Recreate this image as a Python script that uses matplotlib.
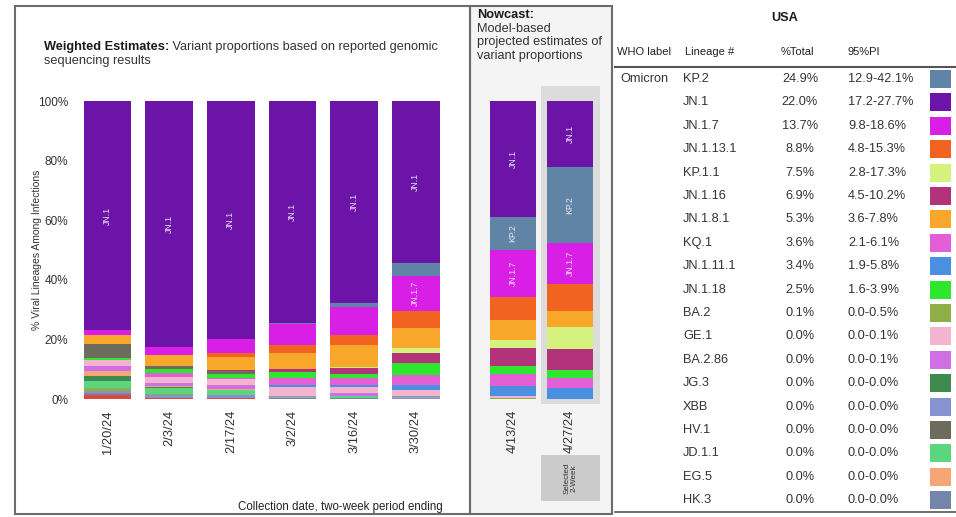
import numpy as np
import matplotlib
matplotlib.use("Agg")
import matplotlib.pyplot as plt
from matplotlib.patches import Rectangle

plt.rcParams['font.family'] = ['Liberation Sans', 'DejaVu Sans']

# two-week periods: six weighted estimates, then two nowcast periods
dates = ["1/20/24", "2/3/24", "2/17/24", "3/2/24", "3/16/24", "3/30/24", "4/13/24", "4/27/24"]

# lineage share (%) for every period, one list per lineage
share = {
    "Other":     [1.2, 0.2, 0.2, 0.1, 0.1, 0.1, 0.0, 0.0],
    "HK.3":      [0.7, 0.3, 0.2, 0.1, 0.1, 0.0, 0.0, 0.0],
    "XBB":       [0.7, 1.0, 1.1, 0.1, 0.1, 0.1, 0.0, 0.0],
    "BA.2":      [1.1, 0.3, 0.0, 0.1, 0.1, 0.1, 0.3, 0.1],
    "JD.1.1":    [2.2, 1.8, 1.4, 0.2, 0.5, 0.3, 0.0, 0.0],
    "JG.3":      [1.7, 0.4, 0.2, 0.1, 0.1, 0.0, 0.0, 0.0],
    "EG.5":      [1.7, 0.3, 0.2, 0.1, 0.1, 0.1, 0.0, 0.0],
    "BA.2.86":   [1.9, 1.1, 1.5, 0.2, 0.8, 0.4, 0.0, 0.0],
    "GE.1":      [1.8, 2.0, 1.9, 3.0, 2.2, 2.0, 0.8, 0.0],
    "JN.1.11.1": [0.0, 0.0, 0.0, 0.8, 0.6, 1.7, 3.4, 3.4],
    "KQ.1":      [0.0, 1.4, 0.3, 2.2, 2.2, 3.4, 3.9, 3.6],
    "JN.1.18":   [0.8, 1.1, 1.5, 1.9, 1.4, 3.9, 2.8, 2.5],
    "HV.1":      [4.7, 1.3, 0.9, 0.1, 0.1, 0.0, 0.0, 0.0],
    "JN.1.16":   [0.0, 0.0, 0.3, 0.9, 1.9, 3.4, 5.9, 6.9],
    "KP.1.1":    [0.0, 0.0, 0.0, 0.1, 0.5, 1.7, 2.7, 7.5],
    "JN.1.8.1":  [3.1, 3.4, 4.5, 5.3, 7.3, 6.7, 6.7, 5.3],
    "JN.1.13.1": [0.0, 0.0, 1.1, 2.8, 3.4, 5.6, 7.8, 8.8],
    "JN.1.7":    [1.4, 3.0, 4.7, 7.0, 9.5, 11.7, 15.7, 13.7],
    "KP.2":      [0.0, 0.0, 0.0, 0.3, 1.1, 4.5, 11.2, 24.9],
    "JN.1":      [77.0, 82.4, 80.0, 74.6, 67.9, 54.3, 38.8, 22.0],
}

colors = {
    "Other": "#e0463a", "HK.3": "#7485aa", "XBB": "#8593d2", "BA.2": "#8fae45",
    "JD.1.1": "#5cd67c", "JG.3": "#3f8a4f", "EG.5": "#f6a576", "BA.2.86": "#cf6fe3",
    "GE.1": "#f4b3cf", "JN.1.11.1": "#4a8fe0", "KQ.1": "#e35fd6", "JN.1.18": "#2ee62e",
    "HV.1": "#6d6b5c", "JN.1.16": "#b3337a", "KP.1.1": "#d5f27f", "JN.1.8.1": "#f9a72b",
    "JN.1.13.1": "#f26322", "JN.1.7": "#d91ee6", "KP.2": "#5f84a6", "JN.1": "#6c14a8",
}

# nowcast table for the selected period
tab_lineage = ["KP.2", "JN.1", "JN.1.7", "JN.1.13.1", "KP.1.1", "JN.1.16", "JN.1.8.1", "KQ.1",
               "JN.1.11.1", "JN.1.18", "BA.2", "GE.1", "BA.2.86", "JG.3", "XBB", "HV.1",
               "JD.1.1", "EG.5", "HK.3"]
tab_total = ["24.9%", "22.0%", "13.7%", "8.8%", "7.5%", "6.9%", "5.3%", "3.6%", "3.4%", "2.5%",
             "0.1%", "0.0%", "0.0%", "0.0%", "0.0%", "0.0%", "0.0%", "0.0%", "0.0%"]
tab_pi = ["12.9-42.1%", "17.2-27.7%", "9.8-18.6%", "4.8-15.3%", "2.8-17.3%", "4.5-10.2%",
          "3.6-7.8%", "2.1-6.1%", "1.9-5.8%", "1.6-3.9%", "0.0-0.5%", "0.0-0.1%", "0.0-0.1%",
          "0.0-0.0%", "0.0-0.0%", "0.0-0.0%", "0.0-0.0%", "0.0-0.0%", "0.0-0.0%"]

order = list(share.keys())  # bottom to top
vals = np.array([share[k] for k in order], dtype=float)
vals = vals / vals.sum(axis=0) * 100

fig = plt.figure(figsize=(9.56, 5.17), dpi=100)
W, H = 956, 517

# background layer in pixel units: panel frames and highlights
bg = fig.add_axes([0, 0, 1, 1], zorder=0)
bg.set_xlim(0, W)
bg.set_ylim(H, 0)
bg.axis("off")
bg.add_patch(Rectangle((470, 6), 142, 508, facecolor="#f4f4f4", edgecolor="#6b6b6b", lw=1.5))
bg.add_patch(Rectangle((15, 6), 455, 508, facecolor="none", edgecolor="#6b6b6b", lw=1.5))
bg.add_patch(Rectangle((541, 86), 59, 318, facecolor="#dcdcdc", edgecolor="none"))
bg.add_patch(Rectangle((541, 455), 59, 46, facecolor="#cbcbcb", edgecolor="none"))
bg.text(570.5, 478, "Selected\n2-Week", rotation=90, ha="center", va="center",
        fontsize=5.8, color="#333333", linespacing=1.1)

t1 = bg.text(44, 53, "Weighted Estimates:", fontsize=9.2, fontweight="bold", va="bottom", color="#1a1a1a")
bg.annotate(" Variant proportions based on reported genomic", xy=(1, 0), xycoords=t1,
            fontsize=9.2, va="bottom", ha="left", color="#333333")
bg.text(44, 67, "sequencing results", fontsize=9.2, va="bottom", color="#333333")

bg.text(477, 15, "Nowcast:", fontsize=9.2, fontweight="bold", va="center", color="#1a1a1a")
for yy, line in [(29, "Model-based"), (42.5, "projected estimates of"), (56, "variant proportions")]:
    bg.text(477, yy, line, fontsize=9.2, va="center", color="#333333")

bg.text(37, 250, "% Viral Lineages Among Infections", rotation=90, ha="center", va="center",
        fontsize=7.5, color="#333333")
bg.text(340, 507, "Collection date, two-week period ending", ha="center", va="center",
        fontsize=8.3, color="#222222")


def draw_bars(ax, idx, width):
    x = np.arange(len(idx))
    bottom = np.zeros(len(idx))
    for k, name in enumerate(order):
        v = vals[k, idx]
        ax.bar(x, v, width, bottom=bottom, color=colors[name], linewidth=0)
        for xi, vi, bi in zip(x, v, bottom):
            if vi >= 10:
                ax.text(xi, bi + vi / 2, name, rotation=90, ha="center", va="center",
                        fontsize=6.3, color="white", alpha=0.85)
        bottom += v
    ax.set_xlim(-0.5, len(idx) - 0.5)
    ax.set_ylim(0, 100)
    ax.set_facecolor("none")
    for s in ax.spines.values():
        s.set_visible(False)
    ax.set_xticks(x)
    ax.set_xticklabels([dates[i] for i in idx], rotation=90, fontsize=9.3, color="#333333")
    ax.tick_params(axis="x", length=0, pad=8)


y0 = 1 - 399 / H
hgt = (399 - 101) / H

ax = fig.add_axes([76.7 / W, y0, 370 / W, hgt], zorder=2)
draw_bars(ax, [0, 1, 2, 3, 4, 5], 0.77)
ax.set_yticks([0, 20, 40, 60, 80, 100])
ax.set_yticklabels(["0%", "20%", "40%", "60%", "80%", "100%"], fontsize=8.5, color="#333333")
ax.tick_params(axis="y", length=0, pad=6)

axn = fig.add_axes([484.5 / W, y0, 114 / W, hgt], zorder=2)
draw_bars(axn, [6, 7], 0.81)
axn.set_yticks([])

# lineage table
bg.text(785, 18, "USA", ha="center", va="center", fontsize=9.2, fontweight="bold", color="#1a1a1a")
for xh, lab in [(617, "WHO label"), (685, "Lineage #"), (781, "%Total"), (848, "95%PI")]:
    bg.text(xh, 52, lab, ha="left", va="center", fontsize=8, color="#222222")
bg.plot([615, 956], [67, 67], color="#555555", lw=1.5)
bg.plot([615, 956], [512, 512], color="#555555", lw=1.2)
bg.text(620, 79, "Omicron", ha="left", va="center", fontsize=9.2, color="#333333")
for i, name in enumerate(tab_lineage):
    yy = 79 + i * 23.4
    bg.text(683, yy, name, ha="left", va="center", fontsize=9.2, color="#333333")
    bg.text(800, yy, tab_total[i], ha="center", va="center", fontsize=9.2, color="#333333")
    bg.text(848, yy, tab_pi[i], ha="left", va="center", fontsize=9.2, color="#333333")
    bg.add_patch(Rectangle((930, yy - 9), 21, 18, facecolor=colors[name], edgecolor="none"))

fig.savefig("out.png", dpi=100)
